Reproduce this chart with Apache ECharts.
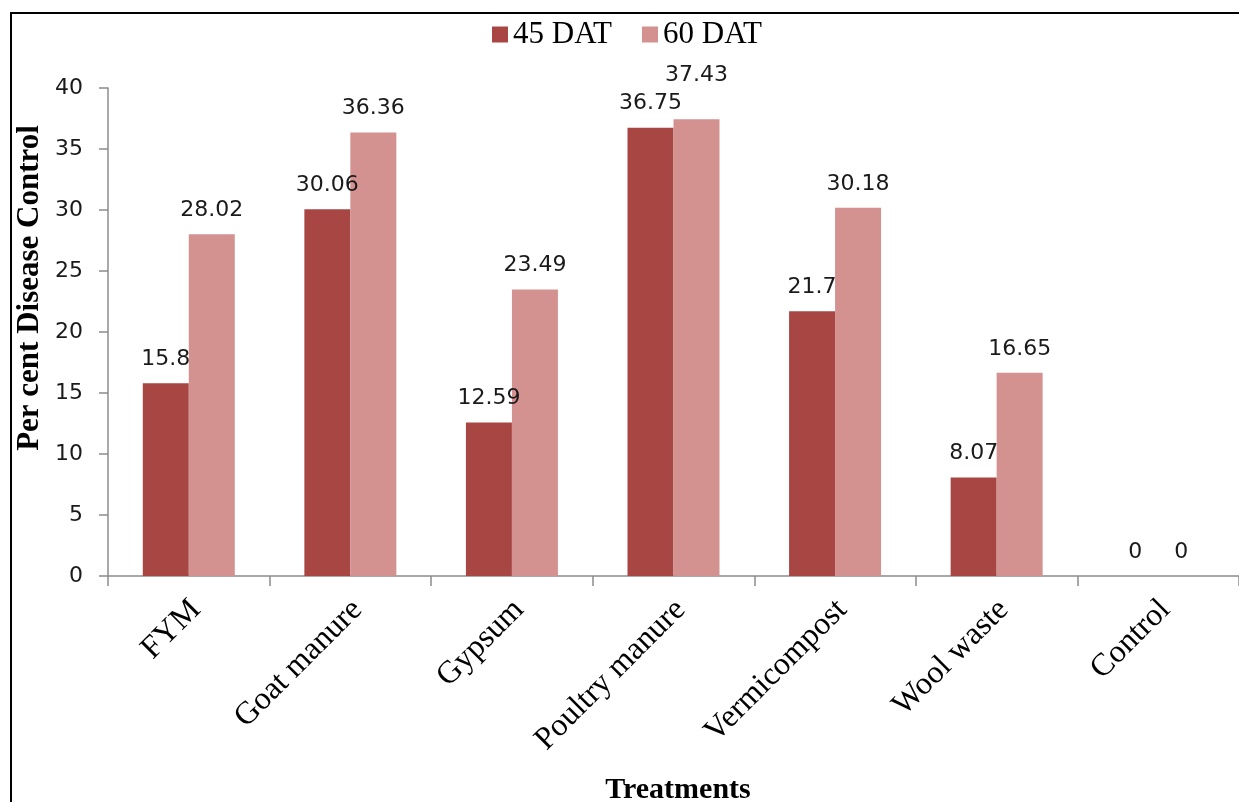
<!DOCTYPE html>
<html>
<head>
<meta charset="utf-8">
<title>Per cent Disease Control</title>
<script src="https://cdn.jsdelivr.net/npm/echarts@6/dist/echarts.min.js"></script>
<style>
  html, body { margin: 0; padding: 0; background: #fff; }
  #chart { width: 1239px; height: 802px; }
</style>
</head>
<body>
<div id="chart"></div>
<script>
// Treatments and disease control (%) at two observation dates
const treatments = ['FYM', 'Goat manure', 'Gypsum', 'Poultry manure', 'Vermicompost', 'Wool waste', 'Control'];
const dat45 = [15.8, 30.06, 12.59, 36.75, 21.7, 8.07, 0];
const dat60 = [28.02, 36.36, 23.49, 37.43, 30.18, 16.65, 0];
const seriesNames = ['45 DAT', '60 DAT'];
const yTicks = { min: 0, max: 40, step: 5 };

const serif = '"Liberation Serif", "Times New Roman", serif';
const sans = '"DejaVu Sans", sans-serif';
const axisGray = '#8c8c8c';

// Poultry manure 60 DAT label sits a little higher so it clears its neighbour
function withLabelLift(values, liftIndex, lift) {
  return values.map((v, i) => i === liftIndex ? { value: v, label: { offset: [0, -lift] } } : v);
}

const chart = echarts.init(document.getElementById('chart'), null, { renderer: 'canvas' });

const barLabel = {
  show: true,
  position: 'top',
  distance: 13,
  fontFamily: sans,
  fontSize: 22,
  color: '#1a1a1a'
};

chart.setOption({
  animation: false,
  backgroundColor: '#ffffff',
  grid: { left: 108, top: 88, width: 1136, height: 488, containLabel: false },
  legend: {
    left: 487,
    top: 14,
    itemWidth: 16,
    itemHeight: 16,
    itemGap: 30,
    icon: 'rect',
    textStyle: { fontFamily: serif, fontSize: 31, color: '#000', padding: [0, 0, 0, 0] },
    data: seriesNames
  },
  xAxis: {
    type: 'category',
    data: treatments,
    axisLine: { lineStyle: { color: axisGray, width: 1.5 } },
    axisTick: { show: true, length: 10, lineStyle: { color: axisGray, width: 1.5 } },
    axisLabel: {
      rotate: 45,
      margin: 36,
      interval: 0,
      padding: [0, -10, 0, 0],
      fontFamily: serif,
      fontSize: 32,
      color: '#000'
    },
    splitLine: { show: false }
  },
  yAxis: {
    type: 'value',
    min: yTicks.min,
    max: yTicks.max,
    interval: yTicks.step,
    axisLine: { show: true, lineStyle: { color: axisGray, width: 1.5 } },
    axisTick: { show: true, length: 9, lineStyle: { color: axisGray, width: 1.5 } },
    axisLabel: { margin: 25, fontFamily: sans, fontSize: 22, color: '#1a1a1a' },
    splitLine: { show: false }
  },
  series: [
    {
      name: seriesNames[0],
      type: 'bar',
      data: dat45,
      barWidth: 46,
      barGap: '0%',
      itemStyle: { color: '#a84644' },
      label: barLabel
    },
    {
      name: seriesNames[1],
      type: 'bar',
      data: withLabelLift(dat60, 3, 20),
      barWidth: 46,
      barGap: '0%',
      itemStyle: { color: '#d39190' },
      label: barLabel
    }
  ],
  graphic: [
    {
      type: 'rect',
      shape: { x: 11, y: 13, width: 1400, height: 1000 },
      style: { fill: 'none', stroke: '#000', lineWidth: 2 },
      silent: true,
      z: 100
    },
    {
      type: 'text',
      x: 30,
      y: 288,
      rotation: Math.PI / 2,
      style: {
        text: 'Per cent Disease Control',
        fontFamily: serif,
        fontWeight: 'bold',
        fontSize: 31,
        fill: '#000',
        align: 'center',
        verticalAlign: 'middle'
      }
    },
    {
      type: 'text',
      x: 678,
      y: 790,
      style: {
        text: 'Treatments',
        fontFamily: serif,
        fontWeight: 'bold',
        fontSize: 30,
        fill: '#000',
        align: 'center',
        verticalAlign: 'middle'
      }
    }
  ]
});
</script>
</body>
</html>
